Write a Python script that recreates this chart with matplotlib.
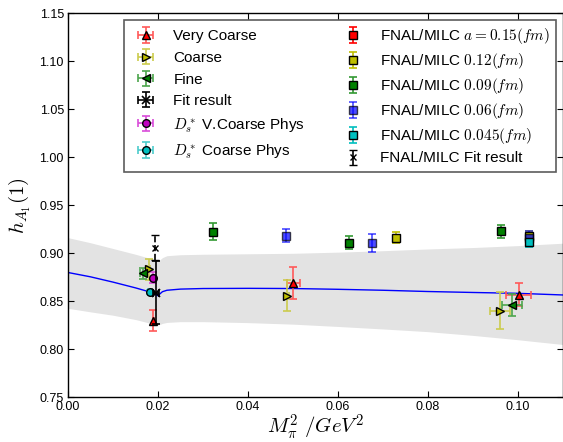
import numpy as np
import matplotlib
matplotlib.use("Agg")
import matplotlib.pyplot as plt

plt.rcParams['font.family'] = ['Liberation Sans', 'DejaVu Sans']
plt.rcParams['mathtext.fontset'] = 'cm'
plt.rcParams['xtick.direction'] = 'in'
plt.rcParams['ytick.direction'] = 'in'

# ---- fit curve and error band ----
curve_x = [0.0, 0.005, 0.010, 0.015, 0.018, 0.0195, 0.020, 0.0205, 0.021, 0.022,
           0.025, 0.030, 0.040, 0.050, 0.060, 0.070, 0.080, 0.090, 0.100, 0.110]
curve_y = [0.880, 0.8755, 0.870, 0.864, 0.860, 0.857, 0.8558, 0.858, 0.860, 0.8615,
           0.8627, 0.8633, 0.8635, 0.8633, 0.8625, 0.8615, 0.8602, 0.8592, 0.8583, 0.8566]
band_hi = [0.9163, 0.911, 0.905, 0.899, 0.895, 0.8925, 0.892, 0.8935, 0.8955, 0.8975,
           0.8985, 0.899, 0.8995, 0.900, 0.9012, 0.9027, 0.9045, 0.906, 0.908, 0.9105]
band_lo = [0.8427, 0.839, 0.8355, 0.831, 0.8275, 0.8258, 0.8253, 0.826, 0.827, 0.828,
           0.8288, 0.8288, 0.8278, 0.8262, 0.8238, 0.8212, 0.8184, 0.8145, 0.810, 0.805]

# ---- this work ----
vc_x = [0.0190, 0.0501, 0.1002]
vc_y = [0.8298, 0.8694, 0.8566]
vc_yerr = [0.011, 0.0168, 0.012]
vc_xerr = [0.0002, 0.0014, 0.0028]

co_x = [0.0179, 0.0487, 0.0960]
co_y = [0.8833, 0.8558, 0.8402]
co_yerr = [0.0107, 0.016, 0.019]
co_xerr = [0.0004, 0.0005, 0.0022]

fi_x = [0.0167, 0.0988]
fi_y = [0.8790, 0.8461]
fi_yerr = [0.006, 0.0115]
fi_xerr = [0.0008, 0.0022]

fit_x = [0.0196]
fit_y = [0.8590]
fit_yerr = [0.033]
fit_xerr = [0.0006]

dsv_x = [0.0190]
dsv_y = [0.8746]
dsv_yerr = [0.0057]
dsv_xerr = [0.0004]

dsc_x = [0.0182]
dsc_y = [0.8594]
dsc_yerr = [0.002]
dsc_xerr = [0.0004]

# ---- FNAL/MILC ----
f15_x, f15_y, f15_e = [], [], []
f12_x = [0.0729, 0.1025]
f12_y = [0.9163, 0.9180]
f12_e = [0.0057, 0.0050]
f09_x = [0.0323, 0.0625, 0.0962]
f09_y = [0.9225, 0.9110, 0.9230]
f09_e = [0.0090, 0.0070, 0.0070]
f06_x = [0.0484, 0.0676, 0.1025]
f06_y = [0.9183, 0.9107, 0.9160]
f06_e = [0.0066, 0.0090, 0.0070]
f045_x = [0.1025]
f045_y = [0.9120]
f045_e = [0.0050]
ffit_x = [0.0193]
ffit_y = [0.906]
ffit_e = [0.013]

fig = plt.figure(figsize=(5.63, 4.42), dpi=100)
ax = fig.add_axes([68/563, (442-397.3)/442, (563-68)/563 - 0.0005, (397.3-13.3)/442])

ax.fill_between(curve_x, band_lo, band_hi, color='#e3e3e3', lw=0, zorder=0)
ax.plot(curve_x, curve_y, color='b', lw=1.0, zorder=1)

MS = 5.5

def ours(x, y, yerr, xerr, marker, fc, ecol, label):
    return ax.errorbar(x, y, yerr=yerr, xerr=xerr, fmt=marker, mfc=fc, mec='k',
                       ms=MS, ecolor=ecol, elinewidth=1.2, capsize=3, capthick=1.2,
                       label=label, zorder=3)

h = []
h.append(ours(vc_x, vc_y, vc_yerr, vc_xerr, '^', 'r', (1, 0.35, 0.35), 'Very Coarse'))
h.append(ours(co_x, co_y, co_yerr, co_xerr, '>', 'y', (0.8, 0.8, 0.3), 'Coarse'))
h.append(ours(fi_x, fi_y, fi_yerr, fi_xerr, '<', 'g', (0.3, 0.65, 0.3), 'Fine'))
h.append(ax.errorbar(fit_x, fit_y, yerr=fit_yerr, xerr=fit_xerr, fmt='x', color='k', ms=MS,
                     mew=1.2, elinewidth=1.2, capsize=3, capthick=1.2,
                     label='Fit result', zorder=4))
h.append(ours(dsv_x, dsv_y, dsv_yerr, dsv_xerr, 'o', 'm', (0.85, 0.3, 0.85), r'$D_s^*$ V.Coarse Phys'))
h.append(ours(dsc_x, dsc_y, dsc_yerr, dsc_xerr, 'o', 'c', (0.3, 0.8, 0.8), r'$D_s^*$ Coarse Phys'))

def fnal(x, y, e, fc, ecol, label, alpha=1.0):
    return ax.errorbar(x if x else [np.nan], y if y else [np.nan], yerr=e if e else [0],
                       fmt='s', mfc=fc, mec='k', ms=MS, ecolor=ecol, elinewidth=1.2,
                       capsize=3, capthick=1.2, label=label, zorder=2, alpha=alpha)

h.append(fnal(f15_x, f15_y, f15_e, 'r', 'r', r'FNAL/MILC $a=0.15(fm)$'))
h.append(fnal(f12_x, f12_y, f12_e, 'y', 'y', r'FNAL/MILC $0.12(fm)$'))
h.append(fnal(f09_x, f09_y, f09_e, 'g', (0.2, 0.6, 0.2), r'FNAL/MILC $0.09(fm)$'))
h.append(fnal(f06_x, f06_y, f06_e, 'b', 'b', r'FNAL/MILC $0.06(fm)$', alpha=0.7))
h.append(fnal(f045_x, f045_y, f045_e, 'c', 'c', r'FNAL/MILC $0.045(fm)$'))
ebf = ax.errorbar(ffit_x, ffit_y, yerr=ffit_e, fmt='x', color='k', ms=5, mew=1.0,
                  elinewidth=1.2, capsize=3, capthick=1.2,
                  label='FNAL/MILC Fit result', zorder=4)
for lc in ebf[2]:
    lc.set_linestyle('--')
h.append(ebf)

ax.set_xlim(0, 0.11)
ax.set_ylim(0.75, 1.15)
ax.set_xticks([0.0, 0.02, 0.04, 0.06, 0.08, 0.10])
ax.set_xticklabels(['0.00', '0.02', '0.04', '0.06', '0.08', '0.10'])
yt = np.arange(0.75, 1.151, 0.05)
ax.set_yticks(yt)
ax.set_yticklabels(['%.2f' % v for v in yt])
ax.tick_params(axis='both', which='both', top=True, right=True, labelsize=9,
               length=4, width=0.8, pad=3)
for s in ax.spines.values():
    s.set_linewidth(1.0)

ax.set_xlabel(r'$M_\pi^2\ /GeV^2$', fontsize=15, labelpad=-0.5)
ax.set_ylabel(r'$h_{A_1}(1)$', fontsize=15, labelpad=5)

leg = ax.legend(handles=h, ncol=2, loc='upper right', fontsize=11, numpoints=1,
                borderaxespad=0.45, handlelength=2.0, handletextpad=0.8,
                columnspacing=2.1, labelspacing=0.33, fancybox=False, frameon=True,
                borderpad=0.4)
leg.get_frame().set_edgecolor('#333333')
leg.get_frame().set_linewidth(1.2)
# first column has lower text rows: give it a little more spacing
try:
    cols = leg._legend_handle_box.get_children()
    cols[0].sep = 0.5 * 11
except Exception:
    pass

fig.savefig('out.png', dpi=100)
